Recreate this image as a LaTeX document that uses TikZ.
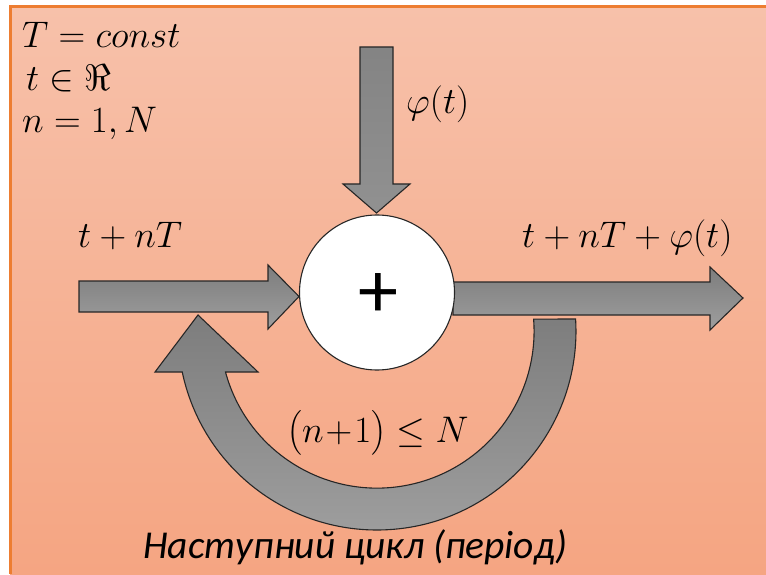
\documentclass[tikz,border=0pt]{standalone}
\usepackage{fix-cm}
\usepackage{amsmath}
\usepackage{fontspec}
\newfontfamily\carlito{Carlito}
\definecolor{bgtop}{RGB}{247,193,170}
\definecolor{bgbot}{RGB}{245,165,130}
\definecolor{edgeorange}{RGB}{237,125,49}
\definecolor{grtop}{RGB}{125,125,125}
\definecolor{grbot}{RGB}{158,158,158}
\tikzset{
  blockarrow/.style={draw=black!85, line width=1.1pt, line join=miter, top color=grtop, bottom color=grbot},
  mathlbl/.style={inner sep=0pt, anchor=base west, font=\fontsize{37}{40}\selectfont},
}
\begin{document}
\begin{tikzpicture}[x=1pt,y=1pt]
\useasboundingbox (0,0) rectangle (766,574);
\fill[white] (0,0) rectangle (766,574);
\shade[top color=bgtop, bottom color=bgbot] (10,0) rectangle (766,568);
\draw[edgeorange, line width=2.5pt] (10.5,0) -- (10.5,567.5) -- (766,567.5);

% feedback (curved) arrow
\path[blockarrow] (575.6,255) arc[start angle=3.46, end angle=-168.1, radius=199]
  -- (155,202) -- (198,259) -- (258,202) -- (225.5,202)
  arc[start angle=-164.9, end angle=4.38, radius=157] -- cycle;

% input arrow
\path[blockarrow] (79,293) -- (268,293) -- (268,309) -- (299,277.5) -- (268,245) -- (268,262) -- (79,262) -- cycle;
% output arrow
\path[blockarrow] (453,292) -- (710,292) -- (710,307) -- (743,276) -- (710,244) -- (710,259) -- (453,259) -- cycle;
% top arrow
\path[blockarrow, top color=grtop!80!grbot, bottom color=grtop!40!grbot] (360,527) -- (393,527) -- (393,390) -- (410,390) -- (376.5,361) -- (343,390) -- (360,390) -- cycle;

% summing node
\node[circle, draw=black!85, line width=1.1pt, fill=white, minimum size=155pt, inner sep=0pt] (sum) at (377,281.5) {};
\node[inner sep=0pt] (plus) at (378,278) {\carlito\fontsize{80}{80}\selectfont +};

% labels
\node[mathlbl] (l1) at (22,526) {$T=const$};
\node[mathlbl] (l2) at (26,483) {$t\in\Re$};
\node[mathlbl] (l3) at (22,441) {$n=1,N$};
\node[mathlbl] (phi) at (406,460) {$\varphi(t)$};
\node[mathlbl] (inl) at (78,326) {$t+nT$};
\node[mathlbl] (outl) at (522,326) {$t+nT+\varphi(t)$};
\node[mathlbl] (cond) at (287,132) {$\bigl(n\!+\!1\bigr)\le N$};
\node[inner sep=0pt, anchor=base west] (cyc) at (143,16) {\carlito\itshape\fontsize{39.5}{42}\selectfont Наступний цикл (період)};
\end{tikzpicture}
\end{document}
